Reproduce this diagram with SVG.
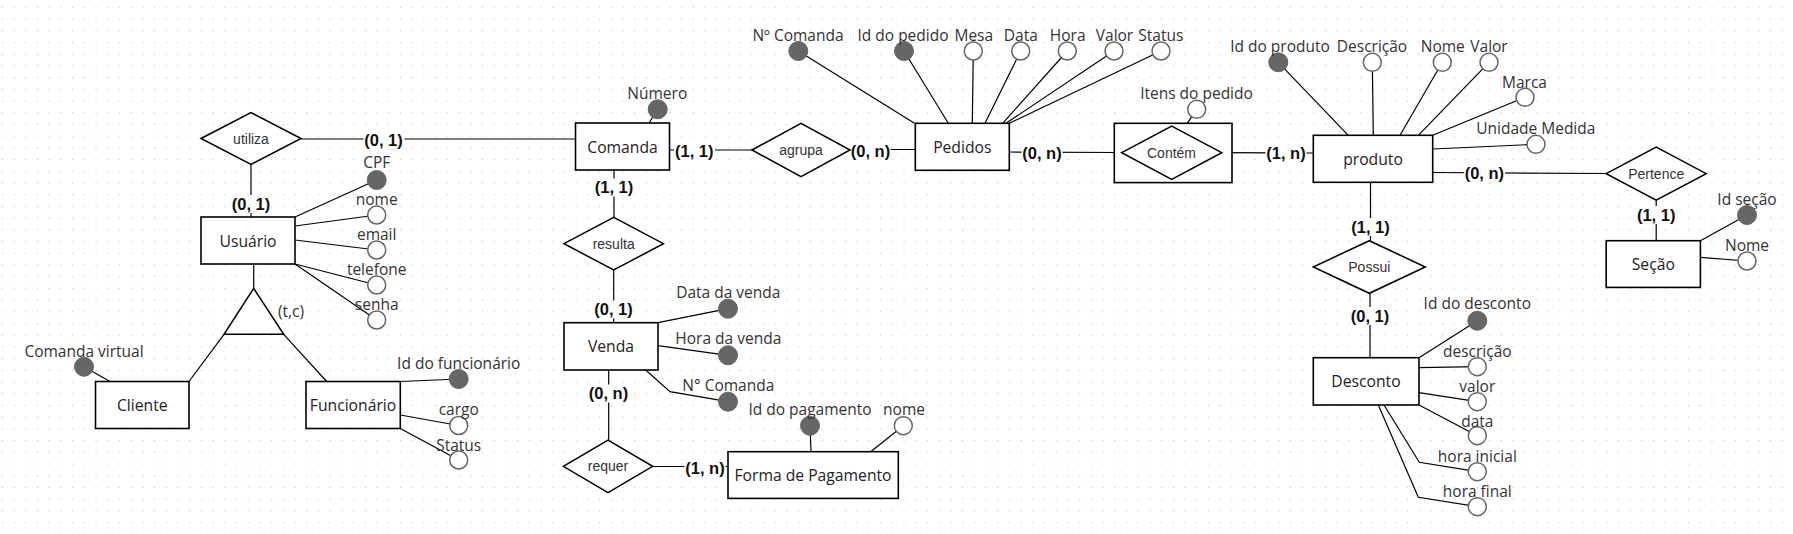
<svg xmlns="http://www.w3.org/2000/svg" width="1793" height="534" viewBox="0 0 1793 534">
<defs>
<pattern id="grid" x="1.8" y="6.8" width="11.71" height="11.71" patternUnits="userSpaceOnUse"><rect width="1.1" height="1.1" fill="#c4c4c4"/></pattern>
<style>
.e{fill:#fff;stroke:#000;stroke-width:1.6}
.d{fill:#fff;stroke:#000;stroke-width:1.5}
.c{fill:none;stroke:#000;stroke-width:1.2}
.ko{fill:#fff;stroke:#666;stroke-width:1.5}
.kf{fill:#666;stroke:#666;stroke-width:1}
.bg{fill:#fff}
text{text-anchor:middle;dominant-baseline:central}
.t{font-family:"Open Sans","Noto Sans",sans-serif;font-size:15.5px;fill:#333}
.te{font-family:"Open Sans","Noto Sans",sans-serif;font-size:15.7px;fill:#222}
.tr{font-family:"Liberation Sans",Arial,sans-serif;font-size:14px;fill:#333}
.tc{font-family:"Liberation Sans",Arial,sans-serif;font-size:16.5px;font-weight:bold;fill:#111}
</style>
</defs>
<rect width="1793" height="534" fill="#fff"/>
<rect width="1793" height="534" fill="url(#grid)"/>

<g id="connectors">
<line class="c" x1="301" y1="139" x2="575.5" y2="139"/>
<line class="c" x1="251" y1="164.5" x2="251" y2="217"/>
<line class="c" x1="669.5" y1="150" x2="752" y2="150"/>
<line class="c" x1="850" y1="149.5" x2="915.3" y2="149.5"/>
<line class="c" x1="614" y1="170" x2="614" y2="217.4"/>
<line class="c" x1="613.7" y1="270" x2="613.7" y2="322.7"/>
<line class="c" x1="608.7" y1="369.5" x2="608.7" y2="440"/>
<line class="c" x1="652.7" y1="466.5" x2="728" y2="466.5"/>
<line class="c" x1="1009.3" y1="152" x2="1121.7" y2="152.5"/>
<line class="c" x1="1221.7" y1="152.7" x2="1313.3" y2="153"/>
<line class="c" x1="1432.7" y1="172.5" x2="1606.2" y2="173.5"/>
<line class="c" x1="1656.2" y1="200.2" x2="1656.2" y2="240.7"/>
<line class="c" x1="1370.5" y1="182" x2="1370.5" y2="240.7"/>
<line class="c" x1="1370" y1="293.3" x2="1370" y2="357.7"/>
<line class="c" x1="253.7" y1="264" x2="253.7" y2="288.3"/>
<line class="c" x1="224" y1="334.3" x2="189" y2="381.5"/>
<line class="c" x1="283.7" y1="334.3" x2="326.7" y2="381.5"/>
<g id="cardinalities">
<rect class="bg" x="363.5" y="130.5" width="41" height="18"/><text class="tc" x="383.5" y="139.5">(0, 1)</text>
<rect class="bg" x="230.5" y="195" width="41" height="18"/><text class="tc" x="251" y="204">(0, 1)</text>
<rect class="bg" x="674" y="142" width="41" height="18"/><text class="tc" x="694.3" y="151">(1, 1)</text>
<rect class="bg" x="850.5" y="141.5" width="40" height="18"/><text class="tc" x="870.5" y="150.5">(0, n)</text>
<rect class="bg" x="593.5" y="178.5" width="41" height="18"/><text class="tc" x="614" y="187.3">(1, 1)</text>
<rect class="bg" x="593" y="300.5" width="41" height="18"/><text class="tc" x="613.5" y="309.3">(0, 1)</text>
<rect class="bg" x="588" y="384.5" width="41" height="18"/><text class="tc" x="608.5" y="393.3">(0, n)</text>
<rect class="bg" x="684.5" y="458.5" width="41" height="18"/><text class="tc" x="705" y="467.5">(1, n)</text>
<rect class="bg" x="1021.5" y="144" width="41" height="18"/><text class="tc" x="1042" y="153">(0, n)</text>
<rect class="bg" x="1265.5" y="144.5" width="41" height="18"/><text class="tc" x="1286" y="153.3">(1, n)</text>
<rect class="bg" x="1464" y="164.5" width="41" height="18"/><text class="tc" x="1484.4" y="173.3">(0, n)</text>
<rect class="bg" x="1635.7" y="206" width="41" height="18"/><text class="tc" x="1656.2" y="215">(1, 1)</text>
<rect class="bg" x="1350" y="218" width="41" height="18"/><text class="tc" x="1370.5" y="226.7">(1, 1)</text>
<rect class="bg" x="1349.5" y="307" width="41" height="18"/><text class="tc" x="1370" y="316">(0, 1)</text>
</g>
</g>

<g id="utiliza"><polygon class="d" points="201,138.5 251,112.5 301,138.5 251,164.5"/><text class="tr" x="251" y="138.5">utiliza</text></g>
<g id="agrupa"><polygon class="d" points="752,150 801,123.3 850,150 801,176.7"/><text class="tr" x="801" y="150">agrupa</text></g>
<g id="resulta"><polygon class="d" points="564,243.7 613.7,217.4 663.4,243.7 613.7,270"/><text class="tr" x="613.7" y="243.7">resulta</text></g>
<g id="requer"><polygon class="d" points="563.3,466.3 608,440 652.7,466.3 608,492.6"/><text class="tr" x="608" y="466.3">requer</text></g>
<g id="pertence"><polygon class="d" points="1606.2,173.7 1656.2,147.2 1706.2,173.7 1656.2,200.2"/><text class="tr" x="1656.2" y="173.7">Pertence</text></g>
<g id="possui"><polygon class="d" points="1313.3,267 1369.3,240.7 1425.3,267 1369.3,293.3"/><text class="tr" x="1369.3" y="267">Possui</text></g>

<g id="especializacao"><polygon class="d" points="253.7,288.3 283.7,334.3 224,334.3"/><text class="t" x="278" y="310.7" style="text-anchor:start">(t,c)</text></g>

<g id="usuario">
<line class="c" x1="295" y1="217" x2="376.7" y2="180"/>
<line class="c" x1="295" y1="226" x2="376.7" y2="215"/>
<line class="c" x1="295" y1="240" x2="376.7" y2="250"/>
<line class="c" x1="295" y1="264" x2="376.7" y2="285"/>
<line class="c" x1="295" y1="264" x2="376.7" y2="320"/>
<rect class="e" x="201" y="217" width="94" height="47"/><text class="te" x="248" y="240.5">Usuário</text>
<circle class="kf" cx="376.7" cy="180" r="9.5"/><text class="t" x="376.7" y="162.3">CPF</text>
<circle class="ko" cx="376.7" cy="215" r="9"/><text class="t" x="376.7" y="199">nome</text>
<circle class="ko" cx="376.7" cy="250" r="9"/><text class="t" x="376.7" y="234">email</text>
<circle class="ko" cx="376.7" cy="285" r="9"/><text class="t" x="376.7" y="268.7">telefone</text>
<circle class="ko" cx="376.7" cy="320" r="9"/><text class="t" x="376.7" y="304">senha</text>
</g>

<g id="cliente">
<line class="c" x1="84" y1="366.7" x2="110" y2="381.5"/>
<rect class="e" x="95.5" y="381.5" width="93.5" height="47"/><text class="te" x="142.3" y="405">Cliente</text>
<circle class="kf" cx="84" cy="366.7" r="9.5"/><text class="t" x="84" y="350.7">Comanda virtual</text>
</g>

<g id="funcionario">
<line class="c" x1="400.3" y1="381.5" x2="458.7" y2="379"/>
<line class="c" x1="400.3" y1="415" x2="458.7" y2="425.5"/>
<line class="c" x1="400.3" y1="428.5" x2="458.7" y2="460"/>
<rect class="e" x="306" y="381.5" width="94.3" height="47"/><text class="te" x="353" y="405">Funcionário</text>
<circle class="kf" cx="458.7" cy="379" r="9.5"/><text class="t" x="458.7" y="363">Id do funcionário</text>
<circle class="ko" cx="458.7" cy="425.5" r="9"/><text class="t" x="458.7" y="409.3">cargo</text>
<circle class="ko" cx="458.7" cy="460" r="9"/><text class="t" x="458.7" y="445">Status</text>
</g>

<g id="comanda">
<line class="c" x1="657.7" y1="109.3" x2="649" y2="123"/>
<rect class="e" x="575.5" y="123" width="94" height="47"/><text class="te" x="622.5" y="146.5">Comanda</text>
<circle class="kf" cx="657.7" cy="109.3" r="9.5"/><text class="t" x="657.3" y="92.7">Número</text>
</g>

<g id="pedidos">
<line class="c" x1="798.3" y1="51" x2="914.5" y2="123.3"/>
<line class="c" x1="904" y1="51" x2="948.3" y2="123.3"/>
<line class="c" x1="973.3" y1="51" x2="972.3" y2="123.3"/>
<line class="c" x1="1020.7" y1="51" x2="985" y2="123.3"/>
<line class="c" x1="1067.3" y1="51" x2="1002.7" y2="123.3"/>
<line class="c" x1="1114" y1="51" x2="1006" y2="123.3"/>
<line class="c" x1="1161" y1="51" x2="1009.3" y2="123.3"/>
<rect class="e" x="915.3" y="123.3" width="94" height="47"/><text class="te" x="962.3" y="146.8">Pedidos</text>
<circle class="kf" cx="798.3" cy="51" r="9.5"/><text class="t" x="798" y="35">Nº Comanda</text>
<circle class="kf" cx="904" cy="51" r="9.5"/><text class="t" x="903" y="35">Id do pedido</text>
<circle class="ko" cx="973.3" cy="51" r="9"/><text class="t" x="973.8" y="35">Mesa</text>
<circle class="ko" cx="1020.7" cy="51" r="9"/><text class="t" x="1020.8" y="35">Data</text>
<circle class="ko" cx="1067.3" cy="51" r="9"/><text class="t" x="1067.7" y="35">Hora</text>
<circle class="ko" cx="1114" cy="51" r="9"/><text class="t" x="1114.5" y="35">Valor</text>
<circle class="ko" cx="1161" cy="51" r="9"/><text class="t" x="1160.8" y="35">Status</text>
</g>

<g id="contem">
<line class="c" x1="1196.7" y1="109.3" x2="1182.3" y2="130.7"/>
<rect class="e" x="1114.3" y="123.3" width="117.7" height="59.3"/>
<polygon class="d" points="1121.7,152.7 1171.7,126 1221.7,152.7 1171.7,179.3"/>
<text class="tr" x="1171.5" y="152.7">Contém</text>
<circle class="ko" cx="1196.7" cy="109.3" r="9"/><text class="t" x="1196.5" y="93">Itens do pedido</text>
</g>

<g id="produto">
<line class="c" x1="1278.3" y1="62.3" x2="1348.3" y2="135.3"/>
<line class="c" x1="1372.3" y1="62.3" x2="1373.3" y2="135.3"/>
<line class="c" x1="1442.3" y1="62.3" x2="1400" y2="135.3"/>
<line class="c" x1="1489" y1="62.3" x2="1418.3" y2="135.3"/>
<line class="c" x1="1525" y1="97.3" x2="1432.7" y2="135.3"/>
<line class="c" x1="1432.7" y1="149" x2="1536" y2="144.3"/>
<rect class="e" x="1313.3" y="135.3" width="119.4" height="47"/><text class="te" x="1373" y="158.8">produto</text>
<circle class="kf" cx="1278.3" cy="62.3" r="9.5"/><text class="t" x="1280" y="45.7">Id do produto</text>
<circle class="ko" cx="1372.3" cy="62.3" r="9"/><text class="t" x="1372" y="45.7">Descrição</text>
<circle class="ko" cx="1442.3" cy="62.3" r="9"/><text class="t" x="1442.8" y="45.7">Nome</text>
<circle class="ko" cx="1489" cy="62.3" r="9"/><text class="t" x="1489" y="45.7">Valor</text>
<circle class="ko" cx="1525" cy="97.3" r="9"/><text class="t" x="1524.5" y="82">Marca</text>
<circle class="ko" cx="1536" cy="144.3" r="9"/><text class="t" x="1535.8" y="128.3">Unidade Medida</text>
</g>

<g id="secao">
<line class="c" x1="1700.4" y1="240.7" x2="1747" y2="215"/>
<line class="c" x1="1700.4" y1="257.3" x2="1747" y2="261"/>
<rect class="e" x="1606.2" y="240.7" width="94.2" height="46.7"/><text class="te" x="1653.3" y="264">Seção</text>
<circle class="kf" cx="1747" cy="215" r="9.5"/><text class="t" x="1747" y="199">Id seção</text>
<circle class="ko" cx="1747" cy="261" r="9"/><text class="t" x="1747" y="245">Nome</text>
</g>

<g id="venda">
<line class="c" x1="658" y1="322.7" x2="728" y2="308.7"/>
<line class="c" x1="658" y1="345.7" x2="728" y2="355.3"/>
<polyline class="c" points="645.7,370 670,391.7 728,401.7"/>
<rect class="e" x="564" y="322.7" width="94" height="47.3"/><text class="te" x="611" y="346.3">Venda</text>
<circle class="kf" cx="728" cy="308.7" r="9.5"/><text class="t" x="728.3" y="291.7">Data da venda</text>
<circle class="kf" cx="728" cy="355.3" r="9.5"/><text class="t" x="728.3" y="338.3">Hora da venda</text>
<circle class="kf" cx="728" cy="401.7" r="9.5"/><text class="t" x="728.3" y="385">N° Comanda</text>
</g>

<g id="forma-pagamento">
<line class="c" x1="810" y1="425.7" x2="811" y2="451.7"/>
<line class="c" x1="903.3" y1="425.7" x2="870.7" y2="451.7"/>
<rect class="e" x="728" y="451.7" width="170.3" height="46.7"/><text class="te" x="813" y="475">Forma de Pagamento</text>
<circle class="kf" cx="810" cy="425.7" r="9.5"/><text class="t" x="810" y="409">Id do pagamento</text>
<circle class="ko" cx="903.3" cy="425.7" r="9"/><text class="t" x="904" y="409">nome</text>
</g>

<g id="desconto">
<line class="c" x1="1419" y1="357.7" x2="1477.3" y2="320.7"/>
<line class="c" x1="1419" y1="367.7" x2="1477.3" y2="366.7"/>
<line class="c" x1="1419" y1="392.7" x2="1477.3" y2="401.7"/>
<line class="c" x1="1419" y1="405" x2="1477.3" y2="435.7"/>
<polyline class="c" points="1384,405 1419.3,462.3 1477.3,471.7"/>
<polyline class="c" points="1378.3,405 1418.3,497.3 1477.3,506.7"/>
<rect class="e" x="1313.3" y="357.7" width="105.7" height="47.3"/><text class="te" x="1366" y="381.3">Desconto</text>
<circle class="kf" cx="1477.3" cy="320.7" r="9.5"/><text class="t" x="1477.3" y="303.3">Id do desconto</text>
<circle class="ko" cx="1477.3" cy="366.7" r="9"/><text class="t" x="1477.3" y="350.7">descrição</text>
<circle class="ko" cx="1477.3" cy="401.7" r="9"/><text class="t" x="1477.3" y="386">valor</text>
<circle class="ko" cx="1477.3" cy="435.7" r="9"/><text class="t" x="1477.3" y="421">data</text>
<circle class="ko" cx="1477.3" cy="471.7" r="9"/><text class="t" x="1477.3" y="455.7">hora inicial</text>
<circle class="ko" cx="1477.3" cy="506.7" r="9"/><text class="t" x="1477.3" y="490.7">hora final</text>
</g>
</svg>
